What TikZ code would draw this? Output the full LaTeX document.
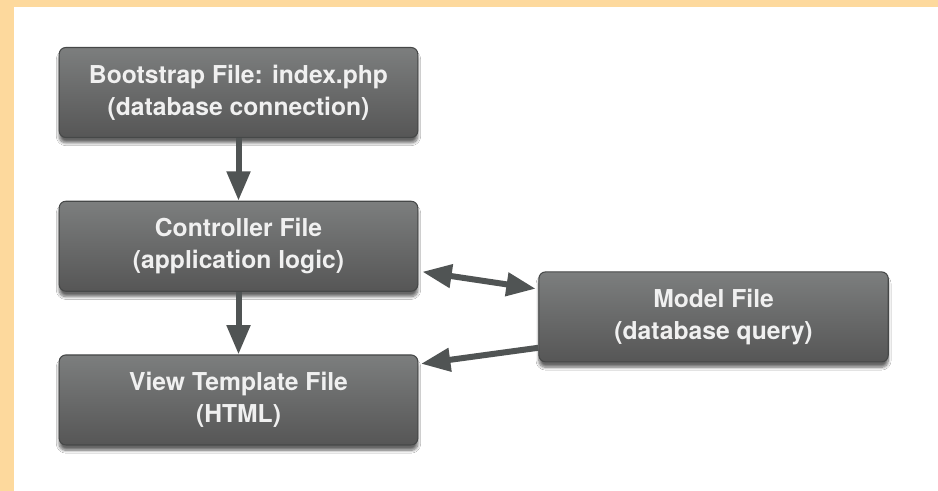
\documentclass[tikz,border=0pt]{standalone}
\usepackage{fontspec}
\setmainfont{TeX Gyre Heros}
\usepackage{color}
\definecolor{pageorange}{RGB}{253,217,157}
\definecolor{boxtop}{RGB}{124,126,126}
\definecolor{boxbottom}{RGB}{86,86,86}
\definecolor{boxline}{RGB}{70,72,72}
\definecolor{linkgray}{RGB}{80,84,84}
\usepackage{tikz}
\usetikzlibrary{arrows.meta,positioning,shadows.blur}
\tikzstyle{filebox}=[draw=boxline,line width=0.8pt,rounded corners=5pt,top color=boxtop,bottom color=boxbottom,
  minimum width=269pt,minimum height=67.5pt,align=center,text=white!94!black,
  font=\fontsize{18.5}{24}\selectfont\bfseries,
  blur shadow={shadow xshift=0pt,shadow yshift=-4pt,shadow blur steps=8,shadow opacity=60}]
\tikzstyle{link}=[draw=linkgray,line width=4.5pt,-{Triangle[length=22pt,width=17pt]}]

\begin{document}
\begin{tikzpicture}[x=0.75pt,y=-0.75pt]
\fill[pageorange] (0,0) rectangle (938,491);
\fill[white] (14,7) rectangle (938,491);
\useasboundingbox (0,0) rectangle (938,491);

\node [filebox] (boot) at (238.5,92.5) {Bootstrap File: index.php\\(database connection)};
\node [filebox,below=47pt of boot] (ctrl) {Controller File\\(application logic)};
\node [filebox,below=47pt of ctrl] (view) {View Template File\\(HTML)};
\node [filebox,minimum width=262pt,right=90pt of ctrl,yshift=-53pt] (model) {Model File\\(database query)};

\draw [link] (boot) -- (ctrl);
\draw [link] (ctrl) -- (view);
\draw [link,{Triangle[length=22pt,width=17pt]}-{Triangle[length=22pt,width=17pt]}]
  ([xshift=3pt,yshift=15pt]ctrl.south east) -- ([xshift=-2pt,yshift=-13pt]model.north west);
\draw [link] ([yshift=11pt]model.south west) -- ([xshift=2pt,yshift=-7pt]view.north east);
\end{tikzpicture}
\end{document}
